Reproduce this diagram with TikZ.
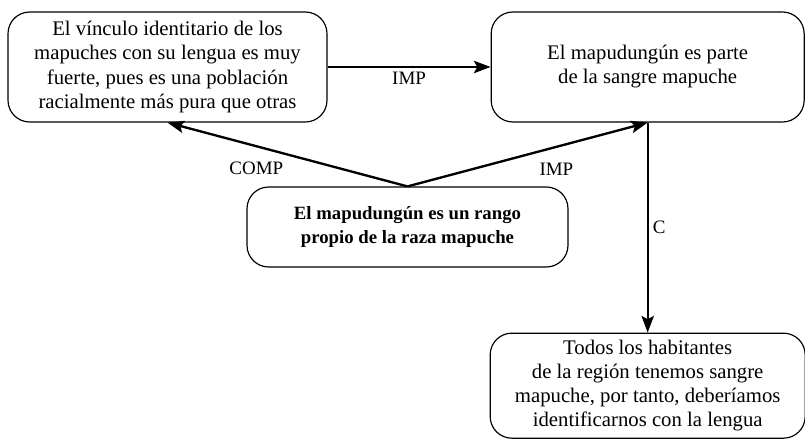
\documentclass[tikz,border=0pt]{standalone}
\usepackage{fontspec}
\setmainfont{Liberation Serif}
\usetikzlibrary{positioning,arrows.meta}

\begin{document}
\begin{tikzpicture}[auto, node distance=3cm,
		>={Stealth[length=0.5cm,width=0.37cm,inset=0.1cm]},
		claim node/.style={rectangle,rounded corners=0.65cm,draw,line width=1pt,
			align=center,inner sep=2pt,font=\fontsize{17.7}{20.5}\selectfont}]
		
		\useasboundingbox (0,0) rectangle (24.15,-13.17);
		
		\node[claim node, minimum width=9.57cm, minimum height=3.3cm] (vinculo) at (5.025,-2.01)
		{El vínculo identitario de los\\mapuches con su lengua es muy\\fuerte, pues es una población\\racialmente más pura que otras};
		\node[claim node, minimum width=9.39cm, minimum height=3.3cm] (sangre) [right=4.89cm of vinculo]
		{El mapudungún es parte\\de la sangre mapuche};
		\node[claim node, minimum width=9.63cm, minimum height=2.4cm, font=\fontsize{16}{20.5}\selectfont\bfseries] (rango) at (12.225,-6.81)
		{El mapudungún es un rango\\propio de la raza mapuche};
		\node[claim node, minimum width=9.45cm, minimum height=3.15cm] (habitantes) [below=6.3cm of sangre]
		{Todos los habitantes\\de la región tenemos sangre\\mapuche, por tanto, deberíamos\\identificarnos con la lengua};
		
		\path[->, line width=2pt, every node/.style={font=\fontsize{16.2}{19}\selectfont}]
		(vinculo) edge node [below] {IMP} (sangre)
		(rango.north) edge node [pos=0.63, below=0.33cm] {COMP} (vinculo.south)
		edge node [pos=0.62, below=0.33cm] {IMP} (sangre.south)
		(sangre.south) edge node [right] {C} (habitantes.north);
		\end{tikzpicture}
\end{document}
